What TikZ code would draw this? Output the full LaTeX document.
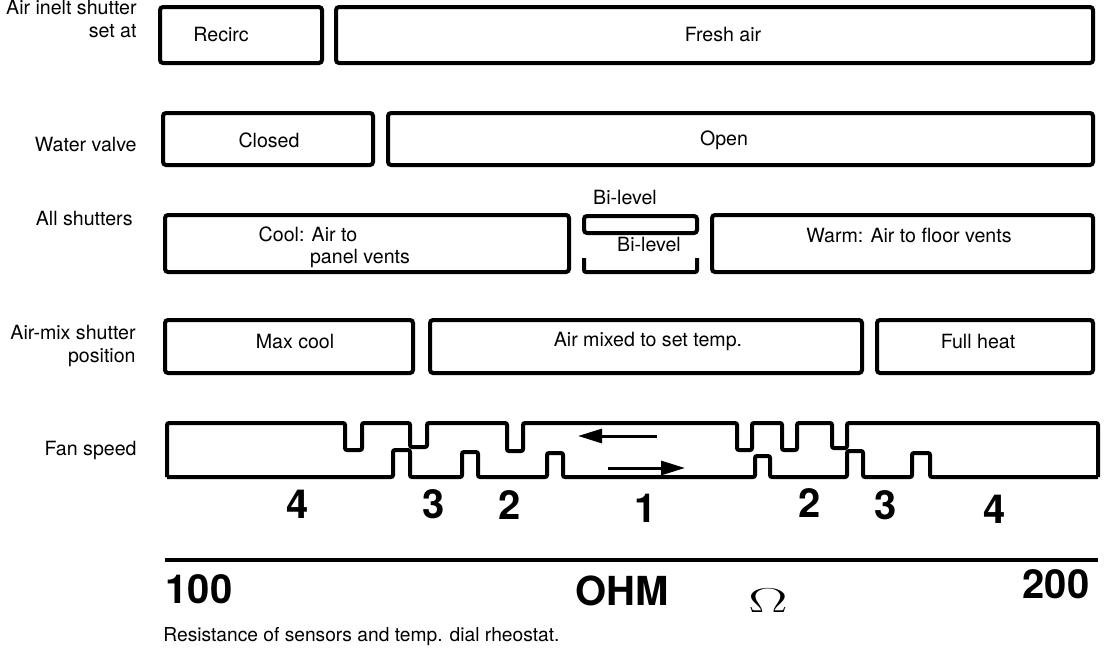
\documentclass[tikz,border=0pt]{standalone}
\usepackage{fontspec}
\setmainfont{TeX Gyre Heros}
\usepackage{tikz}
\usetikzlibrary{arrows.meta,positioning,fit}

\begin{document}
\begin{tikzpicture}[
  x=0.5pt,y=-0.5pt,
  bar/.style={rectangle,rounded corners=1.5pt,draw,line width=2pt,inner sep=0pt},
  fan/.style={draw,line width=2pt,rounded corners=1pt},
  flow/.style={draw,line width=1.5pt,-{Triangle[length=12pt,width=7pt]}},
  txt/.style={font=\fontsize{9.8}{11.5}\selectfont,inner sep=0pt},
  rowlbl/.style={txt,anchor=east,align=right},
  big/.style={font=\fontsize{20}{22}\selectfont\bfseries,inner sep=0pt}
]
\useasboundingbox (0,0) rectangle (1120,648);

% row labels, left column
\node[rowlbl] (inletlbl) at (137,19) {Air inelt shutter\\set at};
\node[rowlbl] (valvelbl) at (137,145) {Water valve};
\node[rowlbl] (shutlbl) at (133,219) {All shutters};
\node[rowlbl] (mixlbl) at (136,346) {Air-mix shutter\\position};
\node[rowlbl] (fanlbl) at (137,450) {Fan speed};

% air inlet shutter
\node[bar,fit={(160,7) (322,63)}] (recirc) {};
\node[bar,fit={(336,7) (1093,63)}] (fresh) {};
\node[txt] (recirctxt) at (221,35) {Recirc};
\node[txt] (freshtxt) at (723,35) {Fresh air};

% water valve
\node[bar,fit={(163,113) (373,165)}] (closed) {};
\node[bar,fit={(388,113) (1093,165)}] (open) {};
\node[txt] (closedtxt) at (269,140) {Closed};
\node[txt] (opentxt) at (724,140) {Open};

% all shutters
\node[bar,fit={(165,215) (569,272)}] (cool) {};
\node[bar,fit={(584,216) (697,233)}] (bilevel) {};
\node[bar,fit={(712,215) (1093,272)}] (warm) {};
\node[txt] (cooltxt) at (308,234) {Cool: Air to};
\node[txt] (paneltxt) at (360,258) {panel vents};
\node[txt] (bitop) at (625,198) {Bi-level};
\node[txt] (bimid) at (649,245) {Bi-level};
\node[txt] (warmtxt) at (909,235) {Warm: Air to floor vents};
\draw[fan] (584,258) -- (584,272) -- (697,272) -- (697,258);

% air-mix shutter
\node[bar,fit={(165,320) (413,373)}] (maxcool) {};
\node[bar,fit={(430,320) (862,373)}] (airmix) {};
\node[bar,fit={(877,320) (1093,373)}] (fullheat) {};
\node[txt] (maxcooltxt) at (295,341) {Max cool};
\node[txt] (airmixtxt) at (648,341) {Air mixed to set temp.};
\node[txt] (fullheattxt) at (978,341) {Full heat};

% fan speed, falling side (top) and rising side (bottom)
\draw[fan] (167,477) -- (167,423) -- (345,423) -- (345,450) -- (362,450) -- (362,423)
  -- (410,423) -- (410,447) -- (427,447) -- (427,423) -- (507,423) -- (507,451)
  -- (523,451) -- (523,423) -- (737,423) -- (737,450) -- (752,450) -- (752,423)
  -- (782,423) -- (782,450) -- (797,450) -- (797,423) -- (832,423) -- (832,448)
  -- (847,448) -- (847,423) -- (1098,423) -- (1098,477);
\draw[fan] (167,477) -- (393,477) -- (393,450) -- (410,450) -- (410,477) -- (462,477)
  -- (462,452) -- (478,452) -- (478,477) -- (547,477) -- (547,453) -- (563,453)
  -- (563,477) -- (755,477) -- (755,456) -- (770,456) -- (770,477) -- (847,477)
  -- (847,451) -- (863,451) -- (863,477) -- (912,477) -- (912,453) -- (930,453)
  -- (930,477) -- (1098,477);
\coordinate (downfrom) at (657,436);
\coordinate (downto) at (578,436);
\coordinate (upfrom) at (608,468);
\coordinate (upto) at (685,468);
\draw[flow] (downfrom) -- (downto);
\draw[flow] (upfrom) -- (upto);

% speed steps
\node[big] (s4l) at (298,504) {4};
\node[big] (s3l) at (434,504) {3};
\node[big] (s2l) at (510,505) {2};
\node[big] (s1) at (646,508) {1};
\node[big] (s2r) at (810,503) {2};
\node[big] (s3r) at (886,505) {3};
\node[big] (s4r) at (995,509) {4};

% resistance scale
\coordinate (axl) at (165,560);
\coordinate (axr) at (1098,560);
\draw[line width=2pt] (axl) -- (axr);
\node[big] (lo) at (199,589) {100};
\node[big] (ohm) at (622,591) {OHM};
\node[inner sep=0pt,font=\fontsize{17}{19}\selectfont] (omega) at (768,601) {\scalebox{1.7}[1]{$\Omega$}};
\node[big] (hi) at (1056,584) {200};
\node[txt,anchor=west,font=\fontsize{9.6}{11}\selectfont] (caption) at (163,637) {Resistance of sensors and temp. dial rheostat.};
\end{tikzpicture}
\end{document}
